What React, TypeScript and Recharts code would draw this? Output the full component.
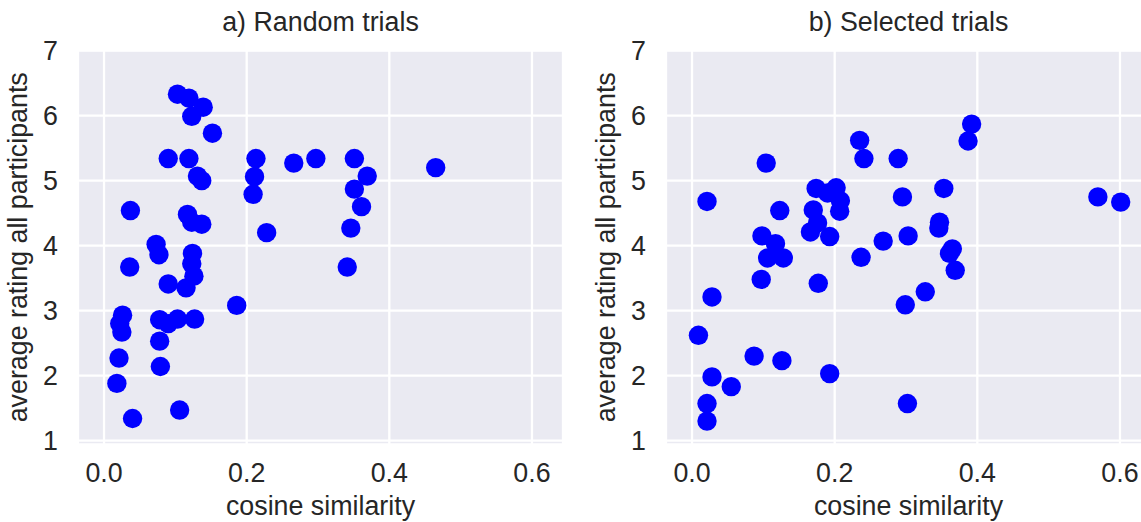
import React from "react";
import {
  ScatterChart,
  Scatter,
  XAxis,
  YAxis,
  CartesianGrid,
} from "recharts";

// a) Random trials
const randomSimilarity = [
  0.103, 0.119, 0.139, 0.123, 0.152, 0.09, 0.119, 0.131, 0.137, 0.213,
  0.211, 0.209, 0.266, 0.297, 0.037, 0.117, 0.123, 0.137, 0.228, 0.073,
  0.077, 0.124, 0.123, 0.126, 0.115, 0.09, 0.036, 0.186, 0.026, 0.022,
  0.025, 0.078, 0.103, 0.127, 0.09, 0.078, 0.021, 0.079, 0.018, 0.106,
  0.04, 0.351, 0.369, 0.351, 0.361, 0.346, 0.341, 0.465,
];
const randomRating = [
  6.33, 6.27, 6.13, 5.99, 5.73, 5.34, 5.34, 5.07, 5.0, 5.34,
  5.06, 4.79, 5.27, 5.34, 4.54, 4.48, 4.36, 4.33, 4.2, 4.02,
  3.86, 3.88, 3.72, 3.53, 3.35, 3.41, 3.67, 3.08, 2.93, 2.8,
  2.67, 2.86, 2.87, 2.87, 2.8, 2.53, 2.27, 2.14, 1.88, 1.47,
  1.34, 5.34, 5.07, 4.87, 4.6, 4.27, 3.67, 5.2,
];

// b) Selected trials
const selectedSimilarity = [
  0.235, 0.241, 0.104, 0.174, 0.202, 0.19, 0.208, 0.207, 0.021, 0.123,
  0.17, 0.176, 0.166, 0.193, 0.098, 0.117, 0.106, 0.128, 0.237, 0.268,
  0.097, 0.177, 0.028, 0.009, 0.087, 0.126, 0.193, 0.028, 0.055, 0.021,
  0.021, 0.392, 0.387, 0.289, 0.353, 0.295, 0.569, 0.601, 0.347, 0.346,
  0.303, 0.365, 0.361, 0.369, 0.327, 0.299, 0.302,
];
const selectedRating = [
  5.62, 5.34, 5.27, 4.88, 4.89, 4.81, 4.69, 4.53, 4.68, 4.54,
  4.55, 4.35, 4.21, 4.14, 4.15, 4.03, 3.81, 3.81, 3.82, 4.07,
  3.48, 3.42, 3.21, 2.62, 2.3, 2.23, 2.03, 1.98, 1.83, 1.57,
  1.3, 5.87, 5.61, 5.34, 4.88, 4.75, 4.75, 4.67, 4.36, 4.27,
  4.15, 3.95, 3.88, 3.62, 3.29, 3.09, 1.57,
];

const xTicks = [0, 0.2, 0.4, 0.6];
const yTicks = [1, 2, 3, 4, 5, 6, 7];

const FONT = "'Liberation Sans', Arial, Helvetica, sans-serif";
const TEXT = "#262626";
const SIZE = 26.8;

const dot = (props: any) => (
  <circle cx={props.cx} cy={props.cy} r={9.7} fill="#0000ff" />
);

function Panel({ xs, ys, left, title }: { xs: number[]; ys: number[]; left: number; title: string }) {
  const data = xs.map((x, i) => ({ x, y: ys[i] }));
  return (
    <div style={{ position: "absolute", left, top: 0, width: 580, height: 522 }}>
      <div
        style={{
          position: "absolute",
          left: 78,
          width: 485,
          top: 7,
          lineHeight: "30px",
          textAlign: "center",
          fontFamily: FONT,
          fontSize: SIZE,
          color: TEXT,
        }}
      >
        {title}
      </div>
      <ScatterChart
        width={580}
        height={522}
        margin={{ top: 50, right: 17, bottom: 0, left: 0 }}
        style={{ fontFamily: FONT }}
      >
        <CartesianGrid fill="#eaeaf2" stroke="#ffffff" strokeWidth={2.3} />
        <XAxis
          type="number"
          dataKey="x"
          domain={[-0.0365, 0.6435]}
          ticks={xTicks}
          allowDataOverflow
          tickFormatter={(v: number) => v.toFixed(1)}
          tick={{ fontSize: SIZE, fill: TEXT }}
          axisLine={false}
          tickLine={false}
          tickSize={0}
          tickMargin={18}
          height={77.5}
          label={{
            value: "cosine similarity",
            position: "insideBottom",
            offset: 7,
            style: { fontSize: SIZE, fill: TEXT },
          }}
        />
        <YAxis
          type="number"
          dataKey="y"
          domain={[0.94, 7.01]}
          ticks={yTicks}
          allowDataOverflow
          tick={{ fontSize: SIZE, fill: TEXT }}
          axisLine={false}
          tickLine={false}
          tickSize={0}
          tickMargin={20}
          width={78}
          label={{
            value: "average rating all participants",
            angle: -90,
            position: "insideLeft",
            offset: 17,
            style: { fontSize: SIZE, fill: TEXT, textAnchor: "middle" },
          }}
        />
        <Scatter data={data} shape={dot} isAnimationActive={false} />
      </ScatterChart>
    </div>
  );
}

export default function App() {
  return (
    <div
      style={{
        position: "absolute",
        left: 0,
        top: 0,
        width: 1141,
        height: 522,
        overflow: "hidden",
        background: "#ffffff",
      }}
    >
      <Panel xs={randomSimilarity} ys={randomRating} left={0} title="a) Random trials" />
      <Panel xs={selectedSimilarity} ys={selectedRating} left={588} title="b) Selected trials" />
    </div>
  );
}
